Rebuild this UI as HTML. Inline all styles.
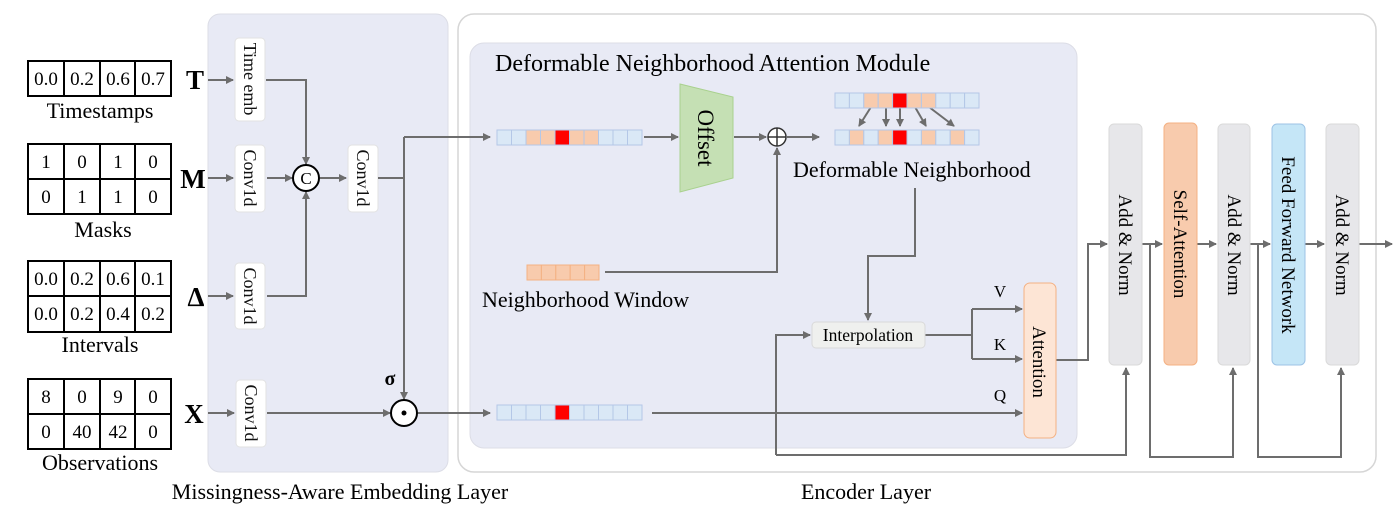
<!DOCTYPE html>
<html><head><meta charset="utf-8"><style>html,body{margin:0;padding:0;background:#fff}svg{display:block}</style></head>
<body>
<svg width="1400" height="508" viewBox="0 0 1400 508" xmlns="http://www.w3.org/2000/svg" font-family="Liberation Serif, serif">
<defs>
<marker id="a" markerWidth="8" markerHeight="8" refX="7" refY="4" orient="auto" markerUnits="userSpaceOnUse"><path d="M0,0 L8,4 L0,8 z" fill="#6d6d6d"/></marker>
</defs>
<rect x="208" y="14" width="240" height="458" rx="12" fill="#e8eaf5" stroke="#dcdde6"/>
<rect x="458" y="14" width="918" height="458" rx="16" fill="#fff" stroke="#d6d6d6" stroke-width="1.5"/>
<rect x="470" y="43" width="607" height="405" rx="14" fill="#e8eaf5" stroke="#dcdde6"/>

<g font-size="19" text-anchor="middle" fill="#000">
<g stroke="#000" stroke-width="2" fill="#fff">
<rect x="28" y="61" width="143" height="35"/>
<rect x="28" y="144" width="143" height="70"/>
<rect x="28" y="261" width="143" height="71"/>
<rect x="28" y="379" width="143" height="70"/>
<path d="M64 61V96M100 61V96M135 61V96M64 144V214M100 144V214M135 144V214M28 179H171M64 261V332M100 261V332M135 261V332M28 296H171M64 379V449M100 379V449M135 379V449M28 414H171" fill="none"/>
</g>
<text x="46" y="85">0.0</text><text x="82" y="85">0.2</text><text x="118" y="85">0.6</text><text x="153" y="85">0.7</text>
<text x="46" y="168">1</text><text x="82" y="168">0</text><text x="118" y="168">1</text><text x="153" y="168">0</text>
<text x="46" y="203">0</text><text x="82" y="203">1</text><text x="118" y="203">1</text><text x="153" y="203">0</text>
<text x="46" y="285">0.0</text><text x="82" y="285">0.2</text><text x="118" y="285">0.6</text><text x="153" y="285">0.1</text>
<text x="46" y="320">0.0</text><text x="82" y="320">0.2</text><text x="118" y="320">0.4</text><text x="153" y="320">0.2</text>
<text x="46" y="403">8</text><text x="82" y="403">0</text><text x="118" y="403">9</text><text x="153" y="403">0</text>
<text x="46" y="438">0</text><text x="82" y="438">40</text><text x="118" y="438">42</text><text x="153" y="438">0</text>
<g font-size="22">
<text x="100" y="118">Timestamps</text><text x="103" y="237">Masks</text><text x="100" y="352">Intervals</text><text x="100" y="470">Observations</text>
</g>
<g font-size="27" font-weight="bold">
<text x="195" y="89">T</text><text x="193" y="188">M</text><text x="196" y="306">Δ</text><text x="194" y="423">X</text>
</g>
</g>

<g fill="#fff" stroke="#e2e2e2">
<rect x="235" y="38" width="30" height="83" rx="4"/>
<rect x="235" y="145" width="30" height="67" rx="4"/>
<rect x="235" y="263" width="30" height="66" rx="4"/>
<rect x="236" y="380" width="30" height="67" rx="4"/>
<rect x="348" y="145" width="30" height="67" rx="4"/>
</g>
<g font-size="18" fill="#111" text-anchor="middle">
<text transform="translate(244,79) rotate(90)">Time emb</text>
<text transform="translate(244,178) rotate(90)">Conv1d</text>
<text transform="translate(244,296) rotate(90)">Conv1d</text>
<text transform="translate(245,413) rotate(90)">Conv1d</text>
<text transform="translate(357,178) rotate(90)">Conv1d</text>
</g>

<g stroke="#6d6d6d" stroke-width="2" fill="none">
<path d="M208 80H233" marker-end="url(#a)"/>
<path d="M208 178H233" marker-end="url(#a)"/>
<path d="M208 296H233" marker-end="url(#a)"/>
<path d="M208 413H234" marker-end="url(#a)"/>
<path d="M266 80H306V164" marker-end="url(#a)"/>
<path d="M267 178H292" marker-end="url(#a)"/>
<path d="M320 178H346" marker-end="url(#a)"/>
<path d="M267 296H306V192" marker-end="url(#a)"/>
<path d="M378 178H404"/>
<path d="M404 137V399" marker-end="url(#a)"/>
<path d="M404 137H490" marker-end="url(#a)"/>
<path d="M267 413H390" marker-end="url(#a)"/>
<path d="M418 413H490" marker-end="url(#a)"/>
<path d="M644 137H678" marker-end="url(#a)"/>
<path d="M734 137H766" marker-end="url(#a)"/>
<path d="M787 137H819" marker-end="url(#a)"/>
<path d="M605 272H777V148" marker-end="url(#a)"/>
<path d="M915 188V256H868V320" marker-end="url(#a)"/>
<path d="M925 335H972M972 309V359M972 309H1022M972 359H1022"/>
<path d="M1000 309H1022" marker-end="url(#a)"/>
<path d="M1000 359H1022" marker-end="url(#a)"/>
<path d="M652 413H1022" marker-end="url(#a)"/>
<path d="M776 455V335H810" marker-end="url(#a)"/>
<path d="M776 455H1126V368" marker-end="url(#a)"/>
<path d="M1056 360H1088V244H1107" marker-end="url(#a)"/>
<path d="M1142 244H1162" marker-end="url(#a)"/>
<path d="M1197 244H1216" marker-end="url(#a)"/>
<path d="M1250 244H1270" marker-end="url(#a)"/>
<path d="M1305 244H1324" marker-end="url(#a)"/>
<path d="M1359 244H1392" marker-end="url(#a)"/>
<path d="M1150 244V457H1233V368" marker-end="url(#a)"/>
<path d="M1258 244V457H1341V368" marker-end="url(#a)"/>
<path d="M871 107L859 126" marker-end="url(#a)"/>
<path d="M886 107V126" marker-end="url(#a)"/>
<path d="M900 107V126" marker-end="url(#a)"/>
<path d="M915 107L926 126" marker-end="url(#a)"/>
<path d="M929 107L954 126" marker-end="url(#a)"/>
</g>

<circle cx="306" cy="178" r="13" fill="#fff" stroke="#000" stroke-width="2"/>
<text x="306" y="184" font-size="17" text-anchor="middle">C</text>
<circle cx="404" cy="413" r="13" fill="#fff" stroke="#000" stroke-width="2"/>
<circle cx="404" cy="413" r="2.5" fill="#000"/>
<text x="390" y="385" font-size="20" font-weight="bold" text-anchor="middle">σ</text>
<circle cx="777" cy="137" r="9" fill="#fff" stroke="#333" stroke-width="1.5"/>
<path d="M768 137H786M777 128V146" stroke="#333" stroke-width="1.5"/>

<g stroke="#b4c7e7" stroke-width="1">
<rect x="497" y="130" width="14.5" height="15" fill="#dae8f6"/><rect x="511.5" y="130" width="14.5" height="15" fill="#dae8f6"/><rect x="526" y="130" width="14.5" height="15" fill="#f8cbad"/><rect x="540.5" y="130" width="14.5" height="15" fill="#f8cbad"/><rect x="555" y="130" width="14.5" height="15" fill="#f00"/><rect x="569.5" y="130" width="14.5" height="15" fill="#f8cbad"/><rect x="584" y="130" width="14.5" height="15" fill="#f8cbad"/><rect x="598.5" y="130" width="14.5" height="15" fill="#dae8f6"/><rect x="613" y="130" width="14.5" height="15" fill="#dae8f6"/><rect x="627.5" y="130" width="14.5" height="15" fill="#dae8f6"/>
<rect x="497" y="405" width="14.5" height="15" fill="#dae8f6"/><rect x="511.5" y="405" width="14.5" height="15" fill="#dae8f6"/><rect x="526" y="405" width="14.5" height="15" fill="#dae8f6"/><rect x="540.5" y="405" width="14.5" height="15" fill="#dae8f6"/><rect x="555" y="405" width="14.5" height="15" fill="#f00"/><rect x="569.5" y="405" width="14.5" height="15" fill="#dae8f6"/><rect x="584" y="405" width="14.5" height="15" fill="#dae8f6"/><rect x="598.5" y="405" width="14.5" height="15" fill="#dae8f6"/><rect x="613" y="405" width="14.5" height="15" fill="#dae8f6"/><rect x="627.5" y="405" width="14.5" height="15" fill="#dae8f6"/>
<rect x="835" y="93" width="14.4" height="15" fill="#dae8f6"/><rect x="849.4" y="93" width="14.4" height="15" fill="#dae8f6"/><rect x="863.8" y="93" width="14.4" height="15" fill="#f8cbad"/><rect x="878.2" y="93" width="14.4" height="15" fill="#f8cbad"/><rect x="892.6" y="93" width="14.4" height="15" fill="#f00"/><rect x="907" y="93" width="14.4" height="15" fill="#f8cbad"/><rect x="921.4" y="93" width="14.4" height="15" fill="#f8cbad"/><rect x="935.8" y="93" width="14.4" height="15" fill="#dae8f6"/><rect x="950.2" y="93" width="14.4" height="15" fill="#dae8f6"/><rect x="964.6" y="93" width="14.4" height="15" fill="#dae8f6"/>
<rect x="835" y="130" width="14.4" height="15" fill="#dae8f6"/><rect x="849.4" y="130" width="14.4" height="15" fill="#f8cbad"/><rect x="863.8" y="130" width="14.4" height="15" fill="#dae8f6"/><rect x="878.2" y="130" width="14.4" height="15" fill="#f8cbad"/><rect x="892.6" y="130" width="14.4" height="15" fill="#f00"/><rect x="907" y="130" width="14.4" height="15" fill="#dae8f6"/><rect x="921.4" y="130" width="14.4" height="15" fill="#f8cbad"/><rect x="935.8" y="130" width="14.4" height="15" fill="#dae8f6"/><rect x="950.2" y="130" width="14.4" height="15" fill="#f8cbad"/><rect x="964.6" y="130" width="14.4" height="15" fill="#dae8f6"/>
</g>
<g stroke="#f4b183" fill="#f8cbad">
<rect x="527" y="265" width="14.4" height="15"/><rect x="541.4" y="265" width="14.4" height="15"/><rect x="555.8" y="265" width="14.4" height="15"/><rect x="570.2" y="265" width="14.4" height="15"/><rect x="584.6" y="265" width="14.4" height="15"/>
</g>

<path d="M680 84L733 97V178L680 192Z" fill="#c5e0b4" stroke="#a9d18e"/>
<text transform="translate(698,138) rotate(90)" font-size="23" text-anchor="middle">Offset</text>

<rect x="812" y="322" width="113" height="26" rx="4" fill="#eff0ee" stroke="#d9d9d9"/>
<text x="868" y="341" font-size="17.5" text-anchor="middle">Interpolation</text>
<rect x="1024" y="283" width="32" height="155" rx="6" fill="#fde5d5" stroke="#f4b183"/>
<text transform="translate(1033,362) rotate(90)" font-size="19" text-anchor="middle">Attention</text>
<g font-size="17" text-anchor="middle"><text x="1000" y="297">V</text><text x="1000" y="350">K</text><text x="1000" y="401">Q</text></g>

<rect x="1109" y="124" width="33" height="241" rx="5" fill="#e7e7ea" stroke="#dadada"/>
<rect x="1164" y="123" width="33" height="242" rx="5" fill="#f8cbad" stroke="#f4b183"/>
<rect x="1218" y="124" width="32" height="241" rx="5" fill="#e7e7ea" stroke="#dadada"/>
<rect x="1272" y="124" width="33" height="241" rx="5" fill="#c5e6f7" stroke="#9dc3e6"/>
<rect x="1326" y="124" width="33" height="241" rx="5" fill="#e7e7ea" stroke="#dadada"/>
<g font-size="19" text-anchor="middle">
<text transform="translate(1119,245) rotate(90)">Add &amp; Norm</text>
<text transform="translate(1174,244) rotate(90)">Self-Attention</text>
<text transform="translate(1228,245) rotate(90)">Add &amp; Norm</text>
<text transform="translate(1282,245) rotate(90)">Feed Forward Network</text>
<text transform="translate(1336,245) rotate(90)">Add &amp; Norm</text>
</g>

<text x="495" y="71" font-size="24">Deformable Neighborhood Attention Module</text>
<text x="793" y="177" font-size="22">Deformable Neighborhood</text>
<text x="482" y="307" font-size="22">Neighborhood Window</text>
<text x="340" y="499" font-size="22" text-anchor="middle">Missingness-Aware Embedding Layer</text>
<text x="866" y="499" font-size="22" text-anchor="middle">Encoder Layer</text>
</svg>
</body></html>
